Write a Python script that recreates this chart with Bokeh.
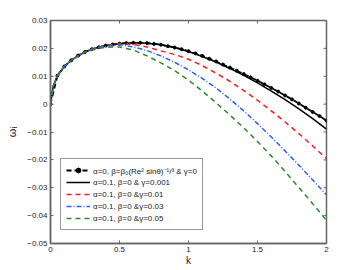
import math
from bokeh.plotting import figure
from bokeh.models import Range1d, Legend, LegendItem, FixedTicker
from bokeh.embed import file_html
from bokeh.resources import INLINE

# data
k_fine = [0.0, 0.05, 0.1, 0.15, 0.2, 0.25, 0.3, 0.35, 0.4, 0.45, 0.5, 0.55, 0.6, 0.65,
          0.7, 0.75, 0.8, 0.85, 0.9, 0.95, 1.0, 1.05, 1.1, 1.15, 1.2, 1.25, 1.3, 1.35,
          1.4, 1.45, 1.5, 1.55, 1.6, 1.65, 1.7, 1.75, 1.8, 1.85, 1.9, 1.95, 2.0]
w_alpha0 = [0.0, 0.0102, 0.0135, 0.0157, 0.0174, 0.0187, 0.0197, 0.0204, 0.0210, 0.0214,
            0.0217, 0.0219, 0.0220, 0.0220, 0.0219, 0.0216, 0.0213, 0.0208, 0.0203, 0.0197,
            0.0190, 0.0182, 0.0173, 0.0163, 0.0153, 0.0142, 0.0131, 0.0120, 0.0108, 0.0096,
            0.0084, 0.0071, 0.0058, 0.0045, 0.0031, 0.0017, 0.0002, -0.0013, -0.0028, -0.0043,
            -0.0059]

k = [0.0, 0.02, 0.05, 0.1, 0.15, 0.2, 0.25, 0.3, 0.35, 0.4, 0.5, 0.6, 0.7, 0.8, 0.9, 1.0,
     1.1, 1.2, 1.3, 1.4, 1.5, 1.6, 1.7, 1.8, 1.9, 2.0]
w_g0001 = [0.0, 0.0065, 0.0102, 0.0135, 0.0157, 0.0174, 0.0187, 0.0197, 0.0204, 0.0210,
           0.0217, 0.0220, 0.0218, 0.0213, 0.0203, 0.0189, 0.0171, 0.0151, 0.0128, 0.0103,
           0.0076, 0.0047, 0.0016, -0.0017, -0.0052, -0.0090]
w_g001 = [0.0, 0.0065, 0.0102, 0.0135, 0.0157, 0.0174, 0.0187, 0.0197, 0.0204, 0.0210,
          0.0217, 0.0214, 0.0205, 0.0191, 0.0178, 0.0161, 0.0138, 0.0111, 0.0082, 0.0049,
          0.0014, -0.0024, -0.0064, -0.0106, -0.0150, -0.0196]
w_g003 = [0.0, 0.0065, 0.0102, 0.0135, 0.0157, 0.0173, 0.0186, 0.0196, 0.0203, 0.0208,
          0.0213, 0.0205, 0.0192, 0.0173, 0.0150, 0.0123, 0.0092, 0.0058, 0.0018, -0.0024,
          -0.0070, -0.0118, -0.0168, -0.0219, -0.0272, -0.0326]
w_g005 = [0.0, 0.0065, 0.0102, 0.0135, 0.0156, 0.0172, 0.0185, 0.0194, 0.0200, 0.0204,
          0.0205, 0.0194, 0.0173, 0.0148, 0.0120, 0.0086, 0.0047, 0.0005, -0.0039, -0.0085,
          -0.0134, -0.0186, -0.0242, -0.0299, -0.0357, -0.0417]

labels = ["α=0, β=β₀(Re² sinθ)⁻¹/³ & γ=0",
          "α=0.1, β=0 & γ=0.001",
          "α=0.1, β=0 &γ=0.01",
          "α=0.1, β=0 &γ=0.03",
          "α=0.1, β=0 &γ=0.05"]

x_ticks = [0, 0.5, 1, 1.5, 2]
x_tick_labels = ["0", "0.5", "1", "1.5", "2"]
y_ticks = [-0.05, -0.04, -0.03, -0.02, -0.01, 0, 0.01, 0.02, 0.03]
y_tick_labels = ["−0.05", "−0.04", "−0.03", "−0.02", "−0.01", "0", "0.01", "0.02", "0.03"]

FONT = "Liberation Sans"
AX = "#666666"
TXT = "#222222"

XMIN, XMAX = 0, 2
YMIN, YMAX = -0.05, 0.03

p = figure(width=352, height=268, output_backend="svg", toolbar_location=None,
           x_range=Range1d(XMIN, XMAX), y_range=Range1d(YMIN, YMAX),
           min_border_left=50, min_border_right=26, min_border_top=20, min_border_bottom=21)
p.background_fill_color = "white"
p.border_fill_color = "white"
p.outline_line_color = AX
p.outline_line_width = 1.5
p.xgrid.visible = False
p.ygrid.visible = False

for ax in (p.xaxis[0], p.yaxis[0]):
    ax.axis_line_color = AX
    ax.axis_line_width = 1.5
    ax.major_tick_in = 3
    ax.major_tick_out = 0
    ax.minor_tick_line_color = None
    ax.major_tick_line_color = AX
    ax.major_label_text_font = FONT
    ax.major_label_text_font_size = "8px"
    ax.major_label_text_color = TXT
    ax.major_label_standoff = 3
    ax.axis_label_text_font = FONT
    ax.axis_label_text_font_style = "normal"
    ax.axis_label_text_color = TXT
    ax.axis_label_text_font_size = "11px"
    ax.axis_label_standoff = 0

p.xaxis.ticker = FixedTicker(ticks=x_ticks)
p.xaxis.major_label_overrides = dict(zip(x_ticks, x_tick_labels))
p.yaxis.ticker = FixedTicker(ticks=y_ticks)
p.yaxis.major_label_overrides = dict(zip(y_ticks, y_tick_labels))
p.xaxis.axis_label = "k"
p.xaxis.axis_label_text_font_size = "10px"
p.yaxis.axis_label = "ωᵢ"
p.yaxis.axis_label_standoff = 6

# ticks on top and right edges (box style), half clipped by the frame
p.scatter(x_ticks, [YMAX] * len(x_ticks), marker="dash", size=6, angle=math.pi / 2,
          line_color=AX, line_width=1)
p.scatter([XMAX] * len(y_ticks), y_ticks, marker="dash", size=6,
          line_color=AX, line_width=1)

r0 = p.line(k_fine, w_alpha0, line_color="black", line_width=1.8, line_dash="5 3")
r0m = p.scatter(k_fine, w_alpha0, size=3, fill_color="black", line_color="black")
r1 = p.line(k, w_g0001, line_color="black", line_width=1.5)
r2 = p.line(k, w_g001, line_color="#ff1a1a", line_width=1.5, line_dash="5 4")
r3 = p.line(k, w_g003, line_color="#2e5cff", line_width=1.5, line_dash="5 2 1 2")
r4 = p.line(k, w_g005, line_color="#2a8a2a", line_width=1.5, line_dash="5 4")

legend = Legend(items=[
    LegendItem(label=labels[0], renderers=[r0, r0m]),
    LegendItem(label=labels[1], renderers=[r1]),
    LegendItem(label=labels[2], renderers=[r2]),
    LegendItem(label=labels[3], renderers=[r3]),
    LegendItem(label=labels[4], renderers=[r4]),
], location=(10, 13))
legend.label_text_font = FONT
legend.label_text_font_size = "8px"
legend.label_text_color = TXT
legend.glyph_width = 24
legend.glyph_height = 12
legend.label_height = 12
legend.label_standoff = 3
legend.spacing = 0
legend.padding = 5
legend.margin = 0
legend.border_line_color = "#333333"
legend.border_line_width = 1
legend.background_fill_color = "white"
legend.background_fill_alpha = 1
p.add_layout(legend, "center")

open("out.html", "w").write(file_html(p, INLINE))
